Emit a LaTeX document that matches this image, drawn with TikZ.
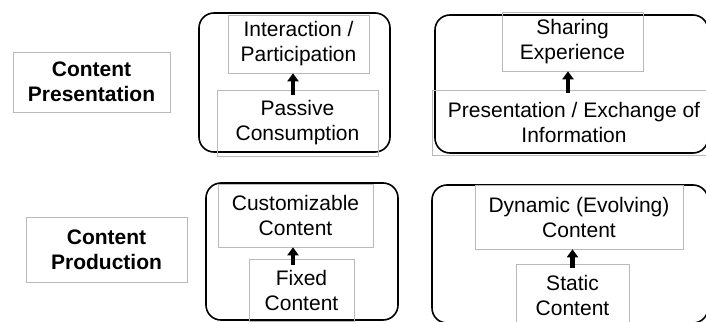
\documentclass[tikz,border=0pt]{standalone}
\usepackage{fontspec}
\setmainfont{Liberation Sans}
\usetikzlibrary{arrows.meta}

\begin{document}
\begin{tikzpicture}[x=1pt,y=-1pt,
	every node/.style={font=\fontsize{21}{25}\selectfont, align=center, inner sep=0pt},
	stage/.style={draw=gray!55, line width=0.6pt},
	group/.style={draw=black, line width=1.6pt, rounded corners=15pt},
	up/.style={line width=4.5pt, -{Triangle[width=11pt,length=8pt]}}]
	
	\useasboundingbox (0,0) rectangle (706,321);
	
	% row labels
	\node[stage, font=\fontsize{21}{25}\selectfont\bfseries, minimum width=157pt, minimum height=60pt] (present) at (91.5,82) {Content\\Presentation};
	\node[stage, font=\fontsize{21}{25}\selectfont\bfseries, minimum width=161pt, minimum height=65pt] (produce) at (106.5,249.5) {Content\\Production};
	
	% frames
	\draw[group] (199,13) rectangle (390,152);
	\draw[group] (435,15) rectangle (708,153);
	\draw[group] (206,183) rectangle (398,320);
	\draw[group] (432,185) rectangle (708,323);
	
	% top row
	\node[stage, minimum width=141pt, minimum height=58pt] (inter) at (298.5,44) {Interaction /\\Participation};
	\node[stage, minimum width=161pt, minimum height=66pt] (passive) at (297.5,123) {Passive\\Consumption};
	\node[stage, minimum width=141pt, minimum height=59pt] (share) at (572.5,41.5) {Sharing\\Experience};
	\node[stage, minimum width=284pt, minimum height=65pt] (exch) at (574,122.5) {Presentation / Exchange of\\Information};
	
	% bottom row
	\node[stage, minimum width=155pt, minimum height=63pt] (custom) at (295.5,215.5) {Customizable\\Content};
	\node[stage, minimum width=105pt, minimum height=62pt] (fixed) at (301.5,290) {Fixed\\Content};
	\node[stage, minimum width=208pt, minimum height=64pt] (dynamic) at (579,217) {Dynamic (Evolving)\\Content};
	\node[stage, minimum width=113pt, minimum height=62pt] (static) at (572.5,295) {Static\\Content};
	
	% arrows
	\draw[up] ([xshift=-4.5pt,yshift=-5pt]passive.north) -- ([xshift=-4.5pt]passive.north |- inter.south);
	\draw[up] ([xshift=-6pt,yshift=-3pt]exch.north) -- ([xshift=-6pt]exch.north |- share.south);
	\draw[up] ([xshift=-8.5pt,yshift=-6pt]fixed.north) -- ([xshift=-8.5pt]fixed.north |- custom.south);
	\draw[up] ([yshift=-4pt]static.north) -- (static.north |- dynamic.south);
	
\end{tikzpicture}
\end{document}
